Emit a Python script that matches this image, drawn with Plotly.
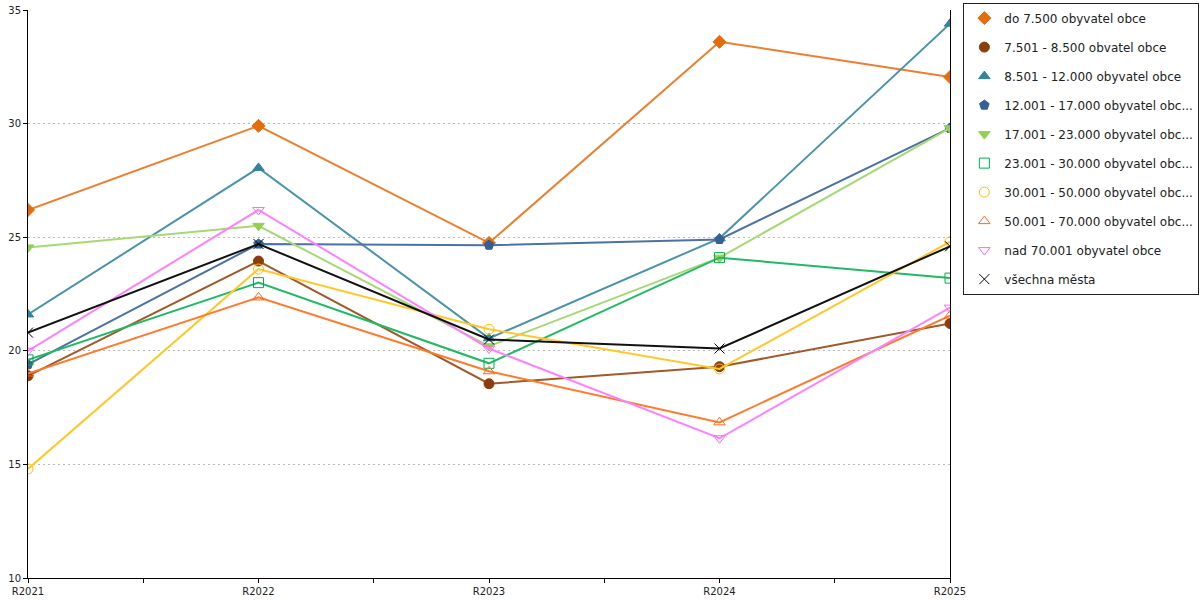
import numpy as np
import plotly.graph_objects as go

years = ["R2021", "R2022", "R2023", "R2024", "R2025"]

names = [
    "do 7.500 obyvatel obce",
    "7.501 - 8.500 obvatel obce",
    "8.501 - 12.000 obyvatel obce",
    "12.001 - 17.000 obyvatel obc...",
    "17.001 - 23.000 obyvatel obc...",
    "23.001 - 30.000 obyvatel obc...",
    "30.001 - 50.000 obyvatel obc...",
    "50.001 - 70.000 obyvatel obc...",
    "nad 70.001 obyvatel obce",
    "všechna města",
]

do_7500 = [26.2, 29.9, 24.75, 33.6, 32.05]
s_7501_8500 = [18.9, 23.95, 18.55, 19.3, 21.2]
s_8501_12000 = [21.6, 28.05, 20.55, 24.95, 34.4]
s_12001_17000 = [19.4, 24.7, 24.65, 24.9, 29.8]
s_17001_23000 = [24.55, 25.5, 20.2, 24.1, 29.8]
s_23001_30000 = [19.6, 23.0, 19.45, 24.1, 23.2]
s_30001_50000 = [14.8, 23.6, 20.95, 19.2, 24.8]
s_50001_70000 = [19.0, 22.35, 19.1, 16.85, 21.55]
nad_70001 = [20.0, 26.2, 20.1, 16.15, 21.9]
vsechna_mesta = [20.8, 24.7, 20.5, 20.1, 24.6]

series = [do_7500, s_7501_8500, s_8501_12000, s_12001_17000, s_17001_23000,
          s_23001_30000, s_30001_50000, s_50001_70000, nad_70001, vsechna_mesta]

marker_colors = ["#E46C0A", "#8B3E0B", "#31849B", "#366092", "#92D050",
                 "#00B050", "#FFC000", "#FF6A1A", "#FF66FF", "#000000"]
line_colors = ["#EC7E2E", "#A0592A", "#4A93A8", "#4D72A0", "#A6D876",
               "#20BA65", "#FFC82A", "#FF7A2A", "#FF80FF", "#111111"]
symbols = ["diamond", "circle", "triangle-up", "pentagon", "triangle-down",
           "square-open", "circle-open", "triangle-up-open", "triangle-down-open", "x-thin-open"]

xpos = list(range(len(years)))

fig = go.Figure()

for name, vals, mc, lc, sym in zip(names, series, marker_colors, line_colors, symbols):
    fig.add_trace(go.Scatter(
        x=xpos, y=vals, mode="lines+markers", showlegend=False,
        line=dict(color=lc, width=2),
        marker=dict(symbol=sym, size=10, color=mc, line=dict(color=mc, width=1)),
        hovertemplate=name + ": %{y}<extra></extra>",
    ))

# legend entries show only the marker
for i, (name, mc, sym) in enumerate(zip(names, marker_colors, symbols)):
    fig.add_trace(go.Scatter(
        x=[None], y=[None], mode="markers", name=name, legendgroup=str(i),
        marker=dict(symbol=sym, size=10, color=mc, line=dict(color=mc, width=1)),
    ))

ticks_x = np.arange(0, len(years) - 0.99, 0.5)
tick_text = [years[int(t)] if t == int(t) else "" for t in ticks_x]

fig.update_layout(
    width=1200, height=600,
    margin=dict(l=28, r=250, t=10, b=22, autoexpand=False),
    plot_bgcolor="white", paper_bgcolor="white",
    font=dict(family="DejaVu Sans", size=10, color="#222222"),
    legend=dict(
        x=1.0145, xanchor="left", y=1.013, yanchor="top",
        bordercolor="#222222", borderwidth=1,
        font=dict(family="DejaVu Sans", size=12, color="#222222"),
        tracegroupgap=10, itemwidth=30,
    ),
    xaxis=dict(
        range=[0, len(years) - 1], tickvals=ticks_x, ticktext=tick_text,
        showgrid=False, zeroline=False, showline=True, linecolor="black", linewidth=1,
        ticks="outside", ticklen=4, tickcolor="black",
    ),
    xaxis2=dict(
        overlaying="x", matches="x", tickvals=ticks_x, showticklabels=False,
        showgrid=False, zeroline=False, ticks="inside", ticklen=4, tickcolor="black",
    ),
    yaxis=dict(
        range=[10, 35], dtick=5, showgrid=True, gridcolor="#BBBBBB", griddash="2px,3px",
        zeroline=False, showline=True, linecolor="black", linewidth=1, mirror=True,
        ticks="outside", ticklen=4, tickcolor="black",
    ),
    yaxis2=dict(
        overlaying="y", matches="y", dtick=5, showticklabels=False,
        showgrid=False, zeroline=False, ticks="inside", ticklen=4, tickcolor="black",
    ),
)

# drop the default page margin so the figure sits at the window corner
fig.write_html("out.html", config={"displayModeBar": False},
               post_script="document.body.style.margin='0';")
